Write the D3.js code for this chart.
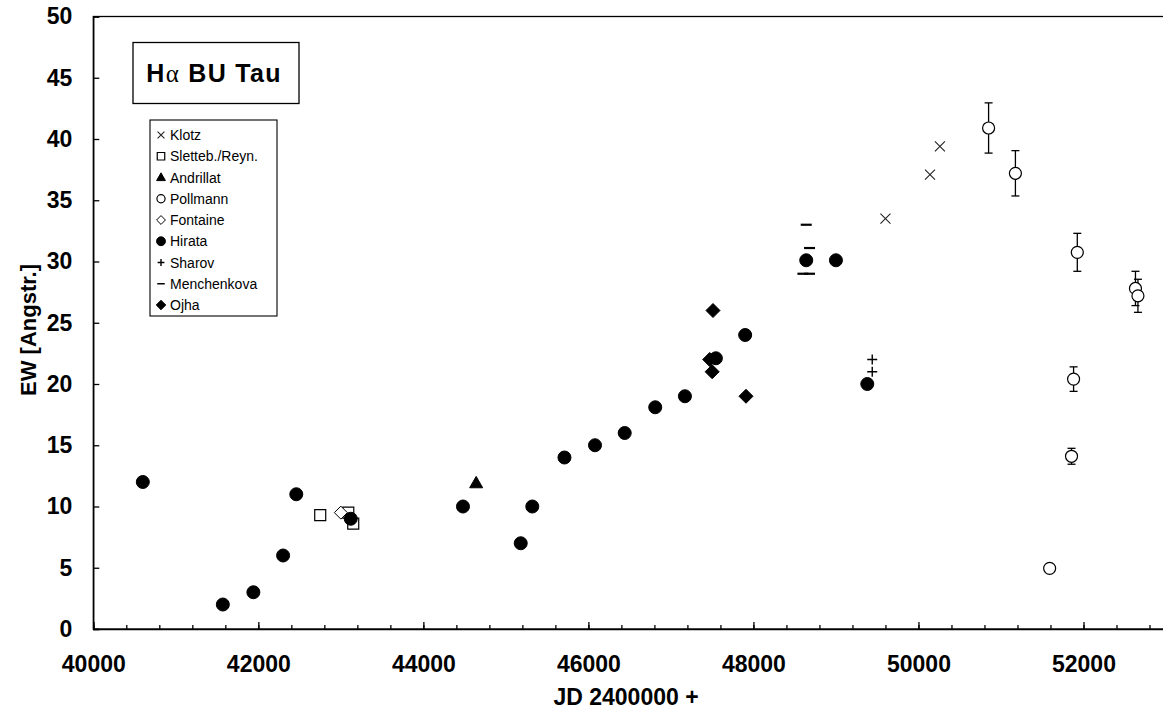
<!DOCTYPE html>
<meta charset="utf-8">
<head>
    <script src="https://d3js.org/d3.v7.min.js"></script>
    <style>
        body { margin: 0; background: #fff; }
        text { font-family: "Liberation Sans", Arial, sans-serif; fill: #000; }
        .axis text { font-weight: bold; font-size: 23px; }
        .axis path, .axis line { stroke: #000; stroke-width: 1.3; }
    </style>
</head>
<body>
<div id="chart"></div>
<script>

// ---- data (JD - 2400000, EW in Angstrom) ----
var klotz      = [[49600, 33.5], [50140, 37.1], [50260, 39.4]];
var sletteb    = [[42750, 9.3], [43090, 9.5], [43150, 8.6]];
var andrillat  = [[44640, 11.9]];
// [jd, ew, error]
var pollmann   = [[50850, 40.9, 2.05], [51175, 37.2, 1.85], [51590, 4.95, 0], [51855, 14.1, 0.65],
                  [51880, 20.4, 1.0], [51925, 30.75, 1.55], [52630, 27.8, 1.4], [52660, 27.2, 1.35]];
var fontaine   = [[43000, 9.5]];
var hirata     = [[40600, 12], [41570, 2], [41940, 3], [42300, 6], [42460, 11], [43120, 9],
                  [44480, 10], [45180, 7], [45320, 10], [45710, 14], [46080, 15], [46440, 16],
                  [46810, 18.1], [47170, 19], [47545, 22.1], [47900, 24], [48640, 30.1],
                  [49000, 30.1], [49380, 20]];
var sharov     = [[49440, 22], [49440, 21]];
var menchenkova = [[48640, 33], [48680, 31.1], [48600, 29], [48680, 29]];
var ojha       = [[47510, 26], [47470, 22], [47500, 21], [47910, 19]];

var seriesNames = ["Klotz", "Sletteb./Reyn.", "Andrillat", "Pollmann", "Fontaine",
                   "Hirata", "Sharov", "Menchenkova", "Ojha"];
var xTicks = d3.range(40000, 52001, 2000);
var xMinorTicks = d3.range(40000, 53001, 400);
var yTicks = d3.range(0, 51, 5);

var width = 1163, height = 718;

var svg = d3.select("#chart").append("svg")
    .attr("width", width)
    .attr("height", height);

var x = d3.scaleLinear().domain([40000, 53000]).range([93.3, 1166]);
var y = d3.scaleLinear().domain([0, 50]).range([629, 16.5]);

// plot frame
svg.append("rect")
    .attr("x", x(40000)).attr("y", y(50))
    .attr("width", x(53000) - x(40000)).attr("height", y(0) - y(50))
    .attr("fill", "none").attr("stroke", "#000").attr("stroke-width", 1.3);

// x axis: minor then major ticks pointing into the plot
svg.append("g")
    .attr("class", "axis")
    .attr("transform", "translate(0," + y(0) + ")")
    .call(d3.axisBottom(x).tickValues(xMinorTicks).tickSize(-4).tickFormat(""))
    .select(".domain").remove();

svg.append("g")
    .attr("class", "axis")
    .attr("transform", "translate(0," + y(0) + ")")
    .call(d3.axisBottom(x).tickValues(xTicks).tickSize(-7).tickPadding(27).tickFormat(d3.format("d")));

svg.append("g")
    .attr("class", "axis")
    .attr("transform", "translate(" + x(40000) + ",0)")
    .call(d3.axisLeft(y).tickValues(yTicks).tickSize(-6).tickPadding(21));

// axis titles
svg.append("text")
    .attr("x", 626).attr("y", 705)
    .attr("text-anchor", "middle")
    .style("font-weight", "bold").style("font-size", "23px")
    .text("JD 2400000 +");

svg.append("text")
    .attr("transform", "translate(36,330) rotate(-90)")
    .attr("text-anchor", "middle")
    .style("font-weight", "bold").style("font-size", "22px")
    .text("EW [Angstr.]");

// ---- custom marker shapes ----
function shapeX(s) {
    return "M" + (-s) + "," + (-s) + "L" + s + "," + s + "M" + (-s) + "," + s + "L" + s + "," + (-s);
}
function shapePlus(s) {
    return "M" + (-s) + ",0L" + s + ",0M0," + (-s) + "L0," + s;
}
function shapeDash(s) {
    return "M" + (-s) + ",0L" + s + ",0";
}
function shapeDiamond(s) {
    return "M0," + (-s) + "L" + s + ",0L0," + s + "L" + (-s) + ",0Z";
}
function shapeSquare(s) {
    return "M" + (-s) + "," + (-s) + "H" + s + "V" + s + "H" + (-s) + "Z";
}
function shapeTriangle(s) {
    return "M0," + (-s * 1.05) + "L" + s + "," + (s * 0.7) + "L" + (-s) + "," + (s * 0.7) + "Z";
}
function shapeCircle(s) {
    return d3.symbol().type(d3.symbolCircle).size(Math.PI * s * s)();
}

// marker style per series (legend order)
var styles = {
    "Klotz":          { path: shapeX,        size: 5,   fill: "none", stroke: "#222", sw: 1.1 },
    "Sletteb./Reyn.": { path: shapeSquare,   size: 5.5, fill: "#fff", stroke: "#000", sw: 1.2 },
    "Andrillat":      { path: shapeTriangle, size: 6.5, fill: "#000", stroke: "#000", sw: 1 },
    "Pollmann":       { path: shapeCircle,   size: 6,   fill: "#fff", stroke: "#000", sw: 1.2 },
    "Fontaine":       { path: shapeDiamond,  size: 6.5, fill: "#fff", stroke: "#000", sw: 1 },
    "Hirata":         { path: shapeCircle,   size: 6.5, fill: "#000", stroke: "#000", sw: 1 },
    "Sharov":         { path: shapePlus,     size: 5,   fill: "none", stroke: "#000", sw: 1.4 },
    "Menchenkova":    { path: shapeDash,     size: 5.5, fill: "none", stroke: "#000", sw: 2.2 },
    "Ojha":           { path: shapeDiamond,  size: 7,   fill: "#000", stroke: "#000", sw: 1 }
};

var seriesData = {
    "Klotz": klotz, "Sletteb./Reyn.": sletteb, "Andrillat": andrillat, "Pollmann": pollmann,
    "Fontaine": fontaine, "Hirata": hirata, "Sharov": sharov, "Menchenkova": menchenkova, "Ojha": ojha
};

// error bars for Pollmann (drawn before the markers)
var errG = svg.append("g").attr("stroke", "#000").attr("stroke-width", 1.3);
pollmann.filter(function (d) { return d[2] > 0; }).forEach(function (d) {
    var cx = x(d[0]), y1 = y(d[1] + d[2]), y2 = y(d[1] - d[2]);
    errG.append("line").attr("x1", cx).attr("x2", cx).attr("y1", y1).attr("y2", y2);
    errG.append("line").attr("x1", cx - 4).attr("x2", cx + 4).attr("y1", y1).attr("y2", y1);
    errG.append("line").attr("x1", cx - 4).attr("x2", cx + 4).attr("y1", y2).attr("y2", y2);
});

seriesNames.forEach(function (name) {
    var st = styles[name];
    svg.append("g")
        .selectAll("path")
        .data(seriesData[name])
        .enter().append("path")
        .attr("transform", function (d) { return "translate(" + x(d[0]) + "," + y(d[1]) + ")"; })
        .attr("d", st.path(st.size))
        .attr("fill", st.fill)
        .attr("stroke", st.stroke)
        .attr("stroke-width", st.sw);
});

// title box
svg.append("rect")
    .attr("x", 133).attr("y", 42.5).attr("width", 166).attr("height", 61)
    .attr("fill", "#fff").attr("stroke", "#000").attr("stroke-width", 1.3);

var title = svg.append("text")
    .attr("x", 214).attr("y", 82)
    .attr("text-anchor", "middle")
    .style("font-weight", "bold").style("font-size", "25px")
    .style("letter-spacing", "1.3px");
title.append("tspan").text("H");
title.append("tspan")
    .style("font-family", "'Liberation Serif', 'Times New Roman', serif")
    .style("font-weight", "normal")
    .text("\u03b1");
title.append("tspan").text(" BU Tau");

// legend
var legend = svg.append("g");
legend.append("rect")
    .attr("x", 150).attr("y", 120).attr("width", 127).attr("height", 196)
    .attr("fill", "#fff").attr("stroke", "#000").attr("stroke-width", 1.1);

seriesNames.forEach(function (name, i) {
    var st = styles[name];
    var ly = 135 + i * 21.25;
    legend.append("path")
        .attr("transform", "translate(161," + ly + ")")
        .attr("d", st.path(st.size * 0.68))
        .attr("fill", st.fill)
        .attr("stroke", st.stroke)
        .attr("stroke-width", Math.min(st.sw, 1.5));
    legend.append("text")
        .attr("x", 170).attr("y", ly + 5)
        .style("font-size", "14px")
        .text(name);
});

</script>
</body>
